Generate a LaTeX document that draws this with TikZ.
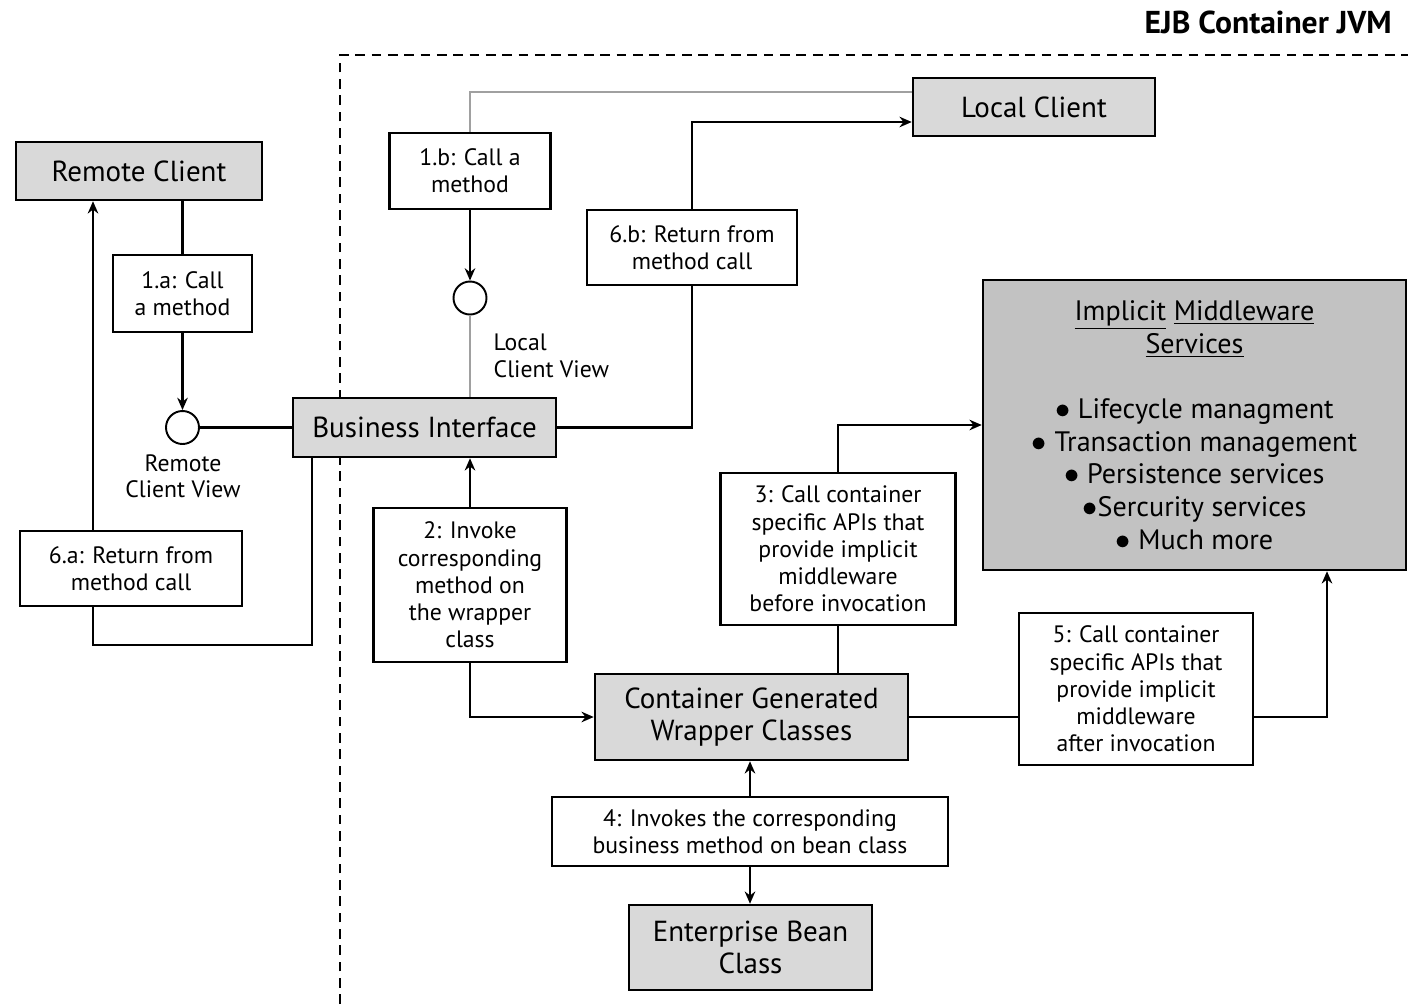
\documentclass[tikz,border=0pt]{standalone}
\usepackage{fontspec}
\setmainfont{PT Sans}
\usetikzlibrary{arrows.meta}

\definecolor{boxgray}{HTML}{D9D9D9}
\definecolor{servgray}{HTML}{C2C2C2}
\definecolor{viewgray}{HTML}{A0A0A0}

\tikzset{
  actor/.style={draw, fill=boxgray, line width=1.4pt, align=center, inner sep=1pt,
    font=\fontsize{16.5}{18.5}\selectfont},
  stepbox/.style={draw, fill=white, line width=1.4pt, align=center, inner sep=1pt,
    font=\fontsize{13.5}{15.5}\selectfont},
  iface/.style={draw, circle, fill=white, line width=1.1pt, minimum size=0.66cm, inner sep=0pt},
  wire/.style={line width=1.3pt},
}

\begin{document}
\begin{tikzpicture}[>={Stealth[length=7pt,width=6pt]}]
    \useasboundingbox (0,0) rectangle (28.16,-20.08);

    % Container boundary
    \draw[line width=1.2pt, dash pattern=on 5.5pt off 3.8pt] (6.8,-20.08) -- (6.8,-1.1) -- (28.16,-1.1);
    \node[anchor=east, font=\bfseries\fontsize{18}{20}\selectfont] (jvm) at (27.96,-0.44) {EJB Container JVM};

    % Clients and classes
    \node[actor, minimum width=4.92cm, minimum height=1.16cm] (remote) at (2.78,-3.42) {Remote Client};
    \node[actor, minimum width=4.84cm, minimum height=1.16cm] (local) at (20.68,-2.14) {Local Client};
    \node[actor, minimum width=5.26cm, minimum height=1.18cm] (bi) at (8.49,-8.55) {Business Interface};
    \node[actor, minimum width=6.26cm, minimum height=1.72cm] (cgw) at (15.03,-14.34) {Container Generated\\Wrapper Classes};
    \node[actor, minimum width=4.86cm, minimum height=1.70cm] (ebc) at (15.01,-18.95) {Enterprise Bean\\Class};
    \node[actor, fill=servgray, minimum width=8.46cm, minimum height=5.8cm,
      font=\fontsize{16}{18.6}\selectfont] (ims) at (23.89,-8.5)
      {\underline{Implicit} \underline{Middleware}\\\underline{Services}\\[18.6pt]
       $\bullet$ Lifecycle managment\\ $\bullet$ Transaction management\\ $\bullet$ Persistence services\\
       $\bullet$Sercurity services\\ $\bullet$ Much more};

    % Client views
    \node[iface] (rview) at (3.65,-8.55) {};
    \node[align=center, font=\fontsize{13.5}{15}\selectfont] (rlabel) at (3.66,-9.52) {Remote\\Client View};
    \node[iface] (lview) at (9.40,-5.96) {};
    \node[anchor=west, align=left, font=\fontsize{13.5}{15}\selectfont] (llabel) at (9.75,-7.12) {Local\\Client View};

    % Steps
    \node[stepbox, minimum width=2.78cm, minimum height=1.54cm] (a1) at (3.65,-5.87) {1.a: Call\\a method};
    \node[stepbox, minimum width=4.44cm, minimum height=1.50cm] (a6) at (2.62,-11.37) {6.a: Return from\\method call};
    \node[stepbox, minimum width=3.22cm, minimum height=1.52cm] (b1) at (9.40,-3.42) {1.b: Call a\\method};
    \node[stepbox, minimum width=4.20cm, minimum height=1.50cm] (b6) at (13.84,-4.95) {6.b: Return from\\method call};
    \node[stepbox, minimum width=3.86cm, minimum height=3.08cm] (s2) at (9.40,-11.70)
      {2: Invoke\\corresponding\\method on\\the wrapper\\class};
    \node[stepbox, minimum width=4.70cm, minimum height=3.04cm] (s3) at (16.76,-10.98)
      {3: Call container\\specific APIs that\\provide implicit\\middleware\\before invocation};
    \node[stepbox, minimum width=7.92cm, minimum height=1.38cm] (s4) at (15.0,-16.63)
      {4: Invokes the corresponding\\business method on bean class};
    \node[stepbox, minimum width=4.68cm, minimum height=3.04cm] (s5) at (22.72,-13.78)
      {5: Call container\\specific APIs that\\provide implicit\\middleware\\after invocation};

    % Bends
    \coordinate (biout) at (6.24,-12.9);
    \coordinate (rback) at (1.86,-12.9);
    \coordinate (lcin) at (20.0,-1.84);
    \coordinate (lcout) at (20.0,-2.44);
    \coordinate (imsin) at (26.54,-14.34);

    % Remote path
    \draw[wire] (remote.south -| a1.north) -- (a1.north);
    \draw[wire, ->] (a1.south) -- (rview.north);
    \draw[wire] (rview.east) -- (bi.west);
    \draw[wire] (bi.south -| biout) -- (biout) -- (rback) -- (rback |- a6.south);
    \draw[wire, ->] (rback |- a6.north) -- (rback |- remote.south);

    % Local path
    \draw[wire, viewgray] (local.west |- lcin) -| (b1.north);
    \draw[wire, ->] (b1.south) -- (lview.north);
    \draw[wire, viewgray] (lview.south) -- (lview.south |- bi.north);
    \draw[wire] (bi.east) -| (b6.south);
    \draw[wire, ->] (b6.north) |- (local.west |- lcout);

    % Container path
    \draw[wire, ->] (s2.north) -- (s2.north |- bi.south);
    \draw[wire, ->] (s2.south) |- (cgw.west);
    \draw[wire] (s3.south) -- (s3.south |- cgw.north);
    \draw[wire, ->] (s3.north) |- (ims.west);
    \draw[wire] (cgw.east) -- (cgw.east -| s5.west);
    \draw[wire, ->] (s5.east |- imsin) -| (imsin |- ims.south);
    \draw[wire, ->] (s4.north) -- (s4.north |- cgw.south);
    \draw[wire, ->] (s4.south) -- (s4.south |- ebc.north);

\end{tikzpicture}
\end{document}
